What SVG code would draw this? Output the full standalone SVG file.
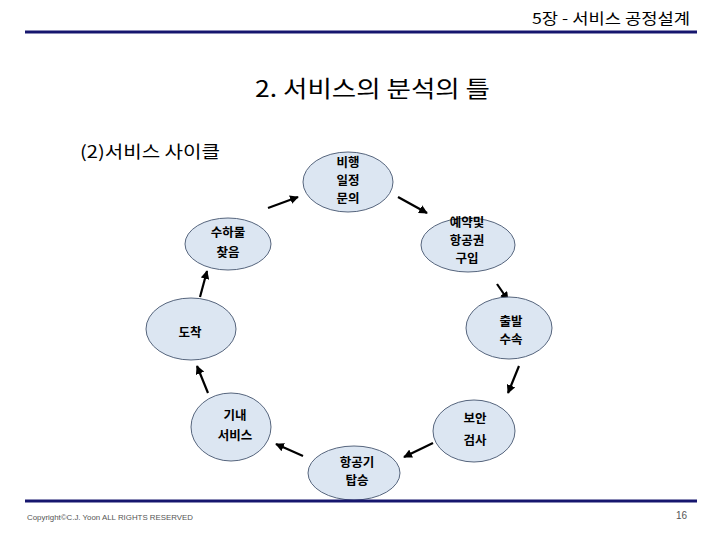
<svg xmlns="http://www.w3.org/2000/svg" width="720" height="540" viewBox="0 0 720 540">
<defs>
<style>
.k{font-family:"Noto Sans CJK KR","Liberation Sans",sans-serif;fill:#000}
.n{font-size:12.5px;font-weight:bold;text-anchor:middle}
.e{fill:#dce6f2;stroke:#56657d;stroke-width:1}
.c{stroke:#000;stroke-width:2.2;fill:none;marker-end:url(#ah)}
.rule{stroke:#16166e;stroke-width:3}
</style>
<marker id="ah" viewBox="0 0 10 10" refX="9" refY="5" markerWidth="4" markerHeight="4" orient="auto" markerUnits="strokeWidth">
<path d="M0,0 L10,5 L0,10 z" fill="#000"/>
</marker>
</defs>
<rect width="720" height="540" fill="#fff"/>
<line class="rule" x1="25" y1="32" x2="697" y2="32"/>
<text class="k" x="532" y="24" font-size="15" textLength="158" lengthAdjust="spacingAndGlyphs">5장 - 서비스 공정설계</text>
<text class="k" x="255" y="97" font-size="23" textLength="235" lengthAdjust="spacingAndGlyphs">2. 서비스의 분석의 틀</text>
<text class="k" x="80" y="158" font-size="17" textLength="140" lengthAdjust="spacingAndGlyphs">(2)서비스 사이클</text>

<g id="connectors">
<line class="c" x1="268" y1="208" x2="298" y2="197"/>
<line class="c" x1="398" y1="197" x2="427" y2="213"/>
<line class="c" x1="497" y1="284" x2="508" y2="300"/>
<line class="c" x1="519" y1="366" x2="508" y2="393"/>
<line class="c" x1="433" y1="443" x2="404" y2="457"/>
<line class="c" x1="303" y1="456" x2="276" y2="444"/>
<line class="c" x1="208" y1="393" x2="197" y2="366"/>
<line class="c" x1="200" y1="297" x2="207" y2="271"/>
</g>

<g id="n1"><ellipse class="e" cx="348" cy="182" rx="45" ry="30"/>
<text class="k n" x="348" y="167">비행</text><text class="k n" x="348" y="185">일정</text><text class="k n" x="348" y="203">문의</text></g>
<g id="n2"><ellipse class="e" cx="468" cy="245" rx="47" ry="27"/>
<text class="k n" x="467" y="227">예약및</text><text class="k n" x="467" y="245">항공권</text><text class="k n" x="467" y="263">구입</text></g>
<g id="n3"><ellipse class="e" cx="509" cy="328" rx="43" ry="31"/>
<text class="k n" x="511" y="326">출발</text><text class="k n" x="511" y="344">수속</text></g>
<g id="n4"><ellipse class="e" cx="474" cy="431" rx="41" ry="31"/>
<text class="k n" x="475" y="423">보안</text><text class="k n" x="475" y="445">검사</text></g>
<g id="n5"><ellipse class="e" cx="354" cy="473" rx="46" ry="27"/>
<text class="k n" x="357" y="467">항공기</text><text class="k n" x="357" y="485">탑승</text></g>
<g id="n6"><ellipse class="e" cx="231" cy="427" rx="40" ry="34"/>
<text class="k n" x="235" y="420">기내</text><text class="k n" x="235" y="440">서비스</text></g>
<g id="n7"><ellipse class="e" cx="191" cy="329" rx="45" ry="31"/>
<text class="k n" x="190" y="337">도착</text></g>
<g id="n8"><ellipse class="e" cx="228" cy="244" rx="43" ry="26"/>
<text class="k n" x="228" y="237">수하물</text><text class="k n" x="228" y="257">찾음</text></g>

<line class="rule" x1="25" y1="501" x2="697" y2="501"/>
<text x="27" y="520" font-family="Liberation Sans,sans-serif" font-size="8" fill="#555" textLength="166" lengthAdjust="spacingAndGlyphs">Copyright©C.J. Yoon ALL RIGHTS RESERVED</text>
<text x="676" y="519" font-family="Liberation Sans,sans-serif" font-size="10" fill="#555">16</text>
</svg>
